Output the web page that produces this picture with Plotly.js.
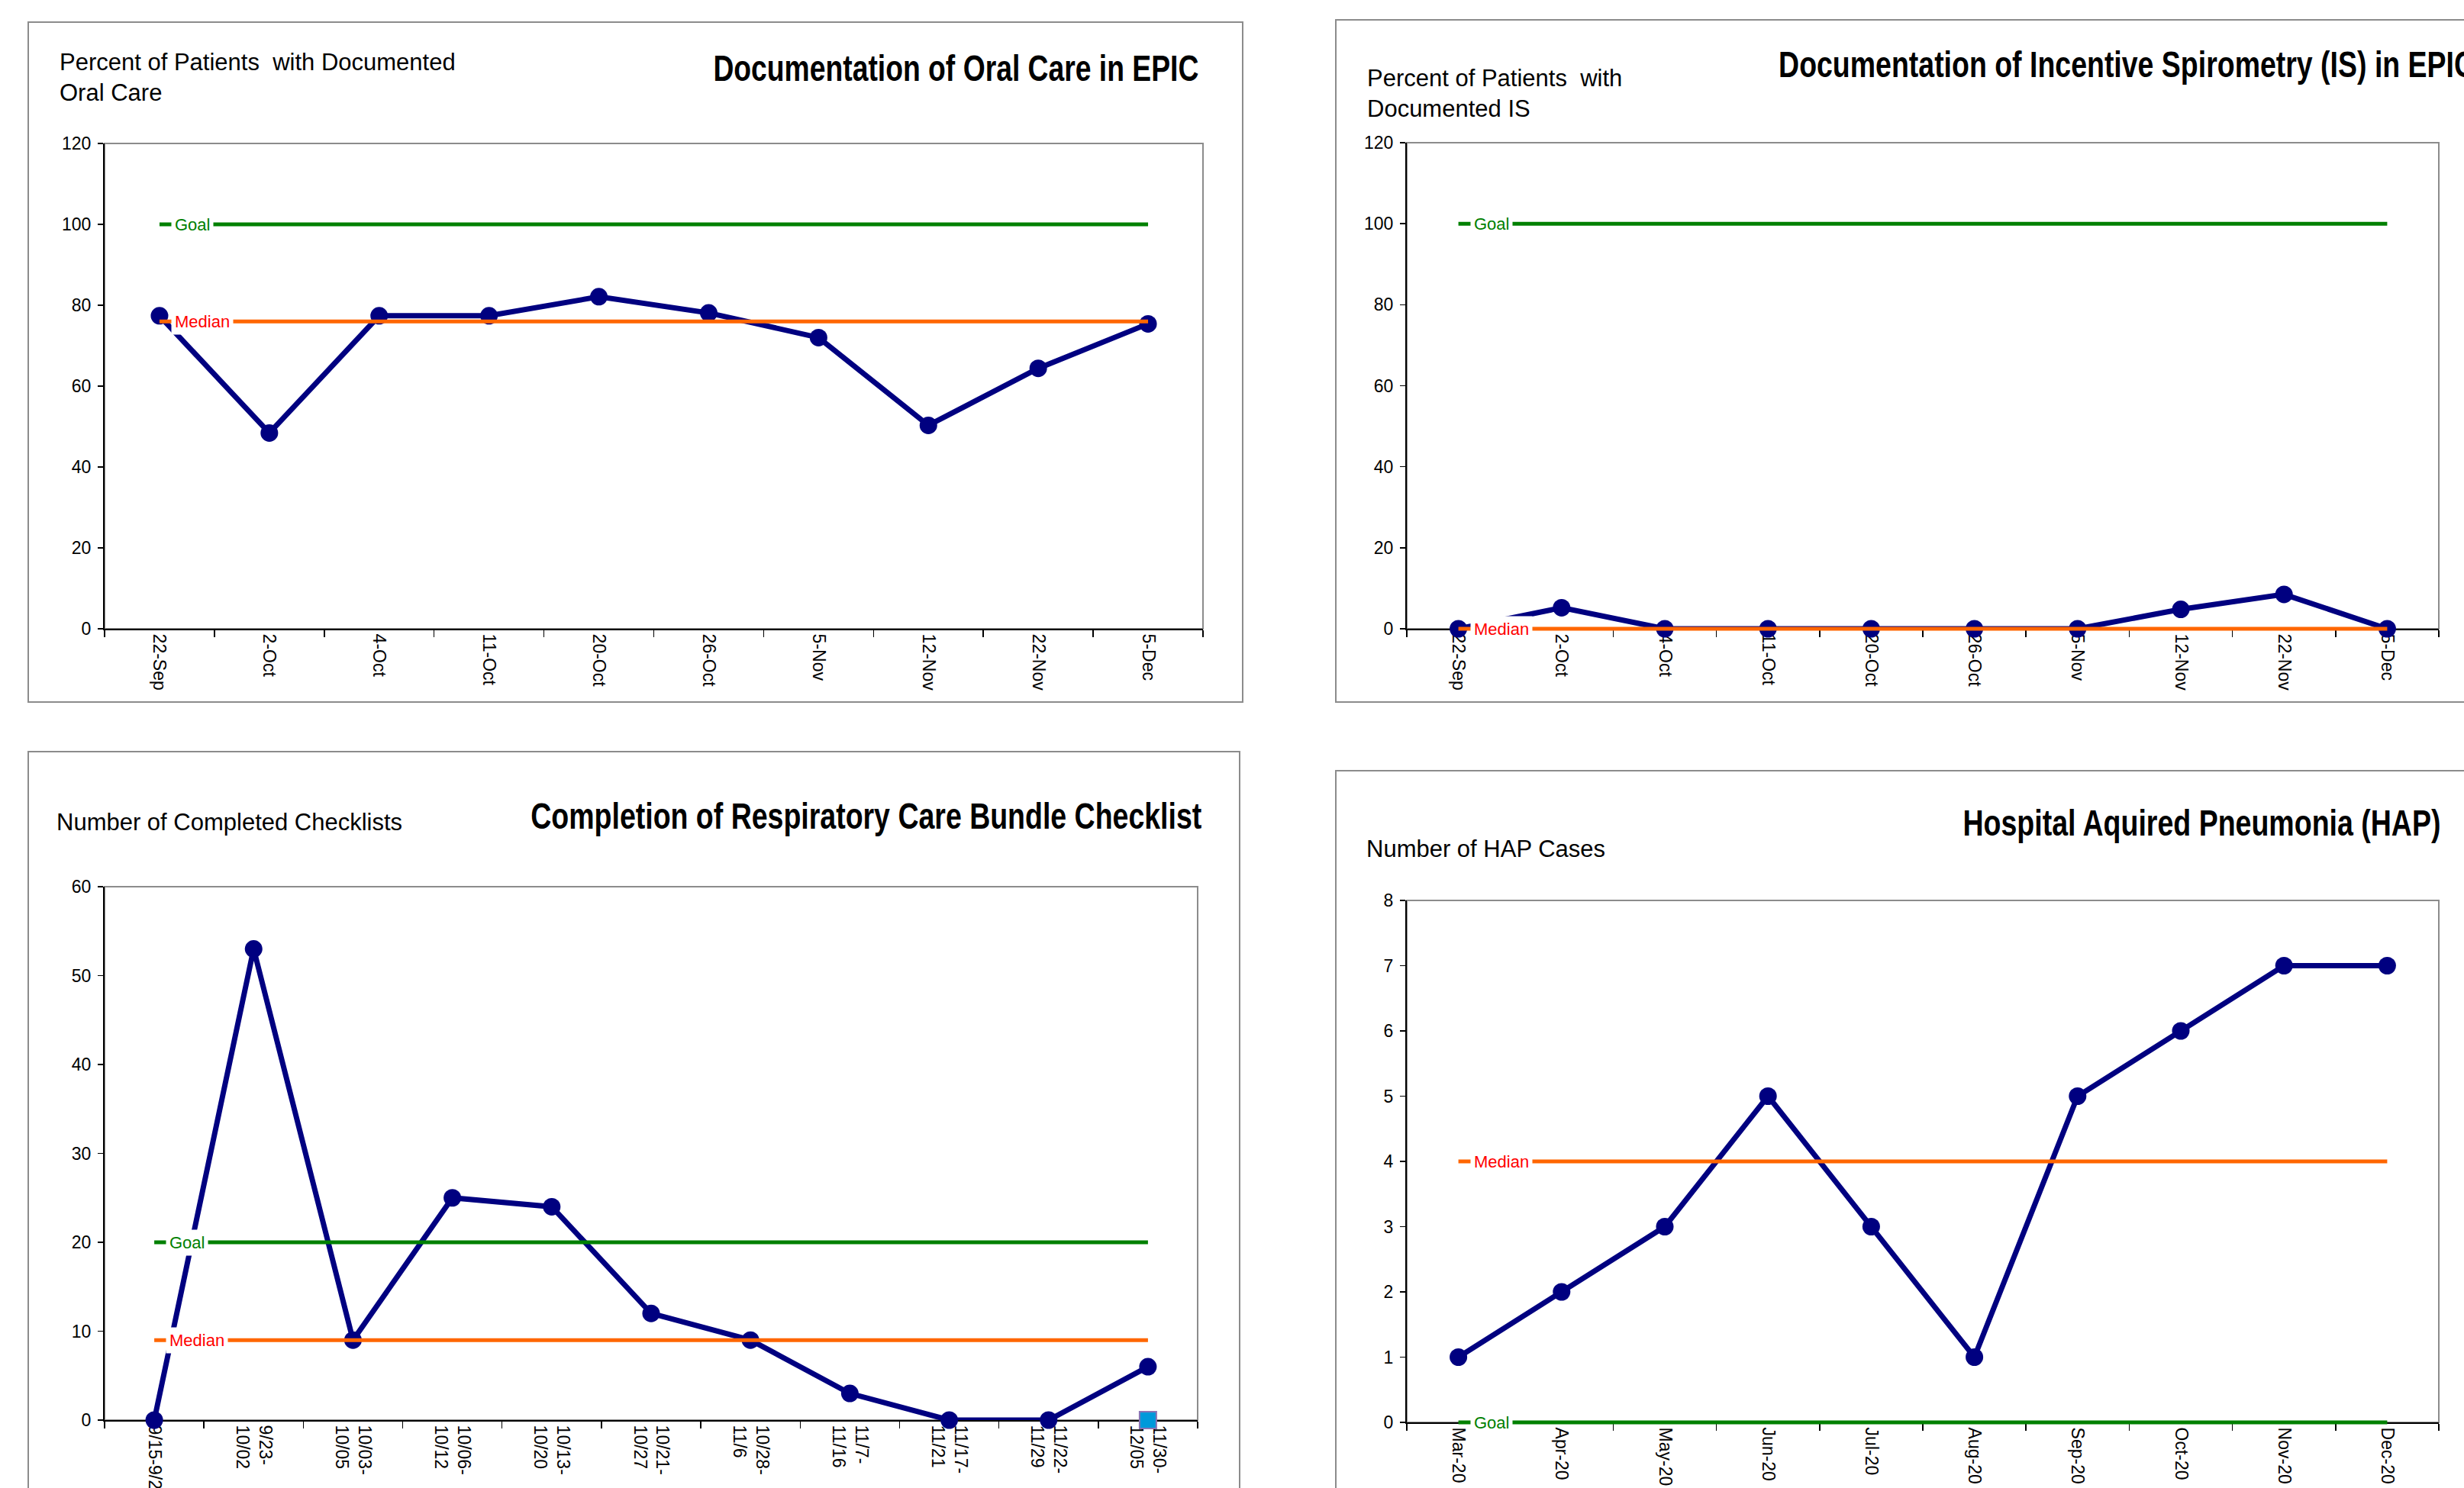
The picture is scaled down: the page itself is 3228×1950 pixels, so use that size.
<!DOCTYPE html>
<html>
<head>
<meta charset="utf-8">
<script src="https://cdn.plot.ly/plotly-3.0.1.min.js"></script>
<style>html,body{margin:0;padding:0;background:#fff;}#chart{width:3228px;height:1950px;}</style>
</head>
<body>
<div id="chart"></div>
<script>
// ---------------- DATA ----------------
const oralDates = ['22-Sep','2-Oct','4-Oct','11-Oct','20-Oct','26-Oct','5-Nov','12-Nov','22-Nov','5-Dec'];
const oralPct = [77.4, 48.4, 77.4, 77.4, 82.1, 78.1, 72.0, 50.3, 64.4, 75.4];
const oralGoal = 100;
const oralMedian = 76;

const isDates = ['22-Sep','2-Oct','4-Oct','11-Oct','20-Oct','26-Oct','5-Nov','12-Nov','22-Nov','5-Dec'];
const isPct = [0, 5.2, 0, 0, 0, 0, 0, 4.8, 8.5, 0];
const isGoal = 100;
const isMedian = 0;

const checkWeeks = ['9/15-9/22','9/23-<br>10/02','10/03-<br>10/05','10/06-<br>10/12','10/13-<br>10/20','10/21-<br>10/27','10/28-<br>11/6','11/7-<br>11/16','11/17-<br>11/21','11/22-<br>11/29','11/30-<br>12/05'];
const checkCounts = [0, 53, 9, 25, 24, 12, 9, 3, 0, 0, 6];
const checkExtra = [null, null, null, null, null, null, null, null, null, null, 0];
const checkGoal = 20;
const checkMedian = 9;

const hapMonths = ['Mar-20','Apr-20','May-20','Jun-20','Jul-20','Aug-20','Sep-20','Oct-20','Nov-20','Dec-20'];
const hapCases = [1, 2, 3, 5, 3, 1, 5, 6, 7, 7];
const hapGoal = 0;
const hapMedian = 4;

const titles = ['Documentation of Oral Care in EPIC',
                'Documentation of Incentive Spirometry (IS) in EPIC',
                'Completion of Respiratory Care Bundle Checklist',
                'Hospital Aquired Pneumonia (HAP)'];
const yTitles = ['Percent of Patients  with Documented<br>Oral Care',
                 'Percent of Patients  with<br>Documented IS',
                 'Number of Completed Checklists',
                 'Number of HAP Cases'];

// ---------------- LAYOUT HELPERS ----------------
const W = 3228, H = 1950;
const FONT = "'Liberation Sans', Arial, sans-serif";
const TFONT = "'Liberation Sans Narrow', 'Arial Narrow', 'Liberation Sans', Arial, sans-serif";
const NAVY = '#000080', GREEN = '#008000', ORANGE = '#FF6600', RED = '#FF0000', GRAY = '#8C8C8C';
const px = x => x / W;
const py = y => 1 - y / H;
const EXT = 6; // px of extra room so reference lines lying on an axis edge are not clipped

const panels = [
  {cats: oralDates, vals: oralPct, goal: oralGoal, median: oralMedian, ymax: 120, dtick: 20,
   box: [37, 29, 1628, 920], plot: [137, 188, 1576, 824],
   title: titles[0], tX: 1252, tY: 89, tW: 636, yt: yTitles[0], ytX: 76, ytY: 102},
  {cats: isDates, vals: isPct, goal: isGoal, median: isMedian, ymax: 120, dtick: 20,
   box: [1750, 26, 3240, 920], plot: [1843, 187, 3195, 824],
   title: titles[1], tX: 2786, tY: 85, tW: 912, yt: yTitles[1], ytX: 1789, ytY: 122},
  {cats: checkWeeks, vals: checkCounts, goal: checkGoal, median: checkMedian, ymax: 60, dtick: 10,
   box: [37, 985, 1624, 1970], plot: [137, 1162, 1569, 1861],
   title: titles[2], tX: 1135, tY: 1069, tW: 879, yt: yTitles[2], ytX: 72, ytY: 1077},
  {cats: hapMonths, vals: hapCases, goal: hapGoal, median: hapMedian, ymax: 8, dtick: 1,
   box: [1750, 1010, 3240, 1970], plot: [1843, 1180, 3195, 1864],
   title: titles[3], tX: 2884, tY: 1078, tW: 626, yt: yTitles[3], ytX: 1788, ytY: 1112}
];

const traces = [];
const refTraces = [];
const layout = {
  width: W, height: H,
  margin: {l: 0, r: 0, t: 0, b: 0},
  paper_bgcolor: '#ffffff', plot_bgcolor: 'rgba(255,255,255,0)',
  showlegend: false,
  font: {family: FONT, color: '#000000'},
  shapes: [], annotations: []
};

panels.forEach((p, i) => {
  const n = i + 1, m = i + 5;
  const xa = 'x' + (n === 1 ? '' : n), ya = 'y' + (n === 1 ? '' : n);
  const xKey = 'xaxis' + (n === 1 ? '' : n), yKey = 'yaxis' + (n === 1 ? '' : n);
  const xo = 'x' + m, yo = 'y' + m;

  layout[xKey] = {
    type: 'category', domain: [px(p.plot[0]), px(p.plot[2])], anchor: ya,
    range: [-0.5, p.cats.length - 0.5],
    showline: true, linecolor: '#000000', linewidth: 2, layer: 'below traces',
    ticks: 'outside', tickson: 'boundaries', ticklen: 9, tickwidth: 1.5, tickcolor: '#000000',
    tickangle: 90, tickfont: {family: FONT, size: 23, color: '#000000'},
    showgrid: false, zeroline: false, fixedrange: true, automargin: false
  };
  layout[yKey] = {
    domain: [py(p.plot[3]), py(p.plot[1])], anchor: xa,
    range: [0, p.ymax], dtick: p.dtick, tick0: 0,
    showline: true, linecolor: '#000000', linewidth: 2, layer: 'below traces',
    ticks: 'outside', ticklen: 7, tickwidth: 1.5, tickcolor: '#000000',
    tickfont: {family: FONT, size: 23, color: '#000000'}, ticklabelstandoff: 4,
    showgrid: false, zeroline: false, fixedrange: true, automargin: false
  };
  // hidden twin axes with the same scale, a few px taller, for goal/median lines
  const ppu = (p.plot[3] - p.plot[1]) / p.ymax;
  layout['xaxis' + m] = {
    type: 'category', domain: [px(p.plot[0]), px(p.plot[2])], anchor: yo,
    range: [-0.5, p.cats.length - 0.5], visible: false, fixedrange: true
  };
  layout['yaxis' + m] = {
    domain: [py(p.plot[3] + EXT), py(p.plot[1] - EXT)], anchor: xo,
    range: [-EXT / ppu, p.ymax + EXT / ppu], visible: false, fixedrange: true
  };

  // outer panel border
  layout.shapes.push({type: 'rect', xref: 'paper', yref: 'paper', layer: 'below',
    x0: px(p.box[0]), x1: px(p.box[2]), y0: py(p.box[3]), y1: py(p.box[1]),
    line: {color: GRAY, width: 2}, fillcolor: 'rgba(0,0,0,0)'});
  // plot area border (gray top/right)
  layout.shapes.push({type: 'rect', xref: xa + ' domain', yref: ya + ' domain', layer: 'below',
    x0: 0, x1: 1, y0: 0, y1: 1, line: {color: GRAY, width: 2}, fillcolor: 'rgba(0,0,0,0)'});

  // data series
  traces.push({type: 'scatter', mode: 'lines+markers', x: p.cats, y: p.vals, xaxis: xa, yaxis: ya,
    line: {color: NAVY, width: 7}, marker: {color: NAVY, size: 23, symbol: 'circle'},
    cliponaxis: false, hoverinfo: 'x+y'});
  if (i === 2) {
    traces.push({type: 'scatter', mode: 'markers', x: p.cats, y: checkExtra, xaxis: xa, yaxis: ya,
      marker: {color: '#0099DA', size: 22, symbol: 'square', line: {color: '#8B74B5', width: 2}},
      cliponaxis: false, hoverinfo: 'x+y'});
  }
  // goal & median lines
  refTraces.push({type: 'scatter', mode: 'lines', x: p.cats, y: p.cats.map(() => p.median), xaxis: xo, yaxis: yo,
    line: {color: ORANGE, width: 5}, hoverinfo: 'y'});
  refTraces.push({type: 'scatter', mode: 'lines', x: p.cats, y: p.cats.map(() => p.goal), xaxis: xo, yaxis: yo,
    line: {color: GREEN, width: 5}, hoverinfo: 'y'});

  // labels on goal/median lines
  layout.annotations.push({xref: xa, yref: ya, x: p.cats[0], y: p.goal, text: 'Goal',
    xanchor: 'left', yanchor: 'middle', xshift: 15, showarrow: false, bgcolor: '#ffffff', borderpad: 4,
    font: {family: FONT, size: 22, color: GREEN}});
  layout.annotations.push({xref: xa, yref: ya, x: p.cats[0], y: p.median, text: 'Median',
    xanchor: 'left', yanchor: 'middle', xshift: 15, showarrow: false, bgcolor: '#ffffff', borderpad: 4,
    font: {family: FONT, size: 22, color: RED}});

  // chart title
  layout.annotations.push({xref: 'paper', yref: 'paper', x: px(p.tX), y: py(p.tY), text: p.title,
    xanchor: 'center', yanchor: 'middle', showarrow: false,
    font: {family: TFONT, size: 48, weight: 'bold', color: '#000000'}});
  // y-axis title (horizontal, top-left)
  layout.annotations.push({xref: 'paper', yref: 'paper', x: px(p.ytX), y: py(p.ytY), text: p.yt,
    xanchor: 'left', yanchor: 'middle', align: 'left', showarrow: false,
    font: {family: FONT, size: 31, color: '#000000'}});
});

Plotly.newPlot('chart', traces.concat(refTraces), layout, {staticPlot: true, displayModeBar: false}).then(gd => {
  // condense the bold chart titles horizontally to the reference's narrow lettering
  const texts = gd.querySelectorAll('text.annotation-text');
  texts.forEach(t => {
    const idx = titles.indexOf(t.textContent);
    if (idx >= 0) {
      const target = panels[idx].tW;
      if (t.getComputedTextLength() > target) {
        t.setAttribute('textLength', target);
        t.setAttribute('lengthAdjust', 'spacingAndGlyphs');
      }
    }
  });
});
</script>
</body>
</html>
